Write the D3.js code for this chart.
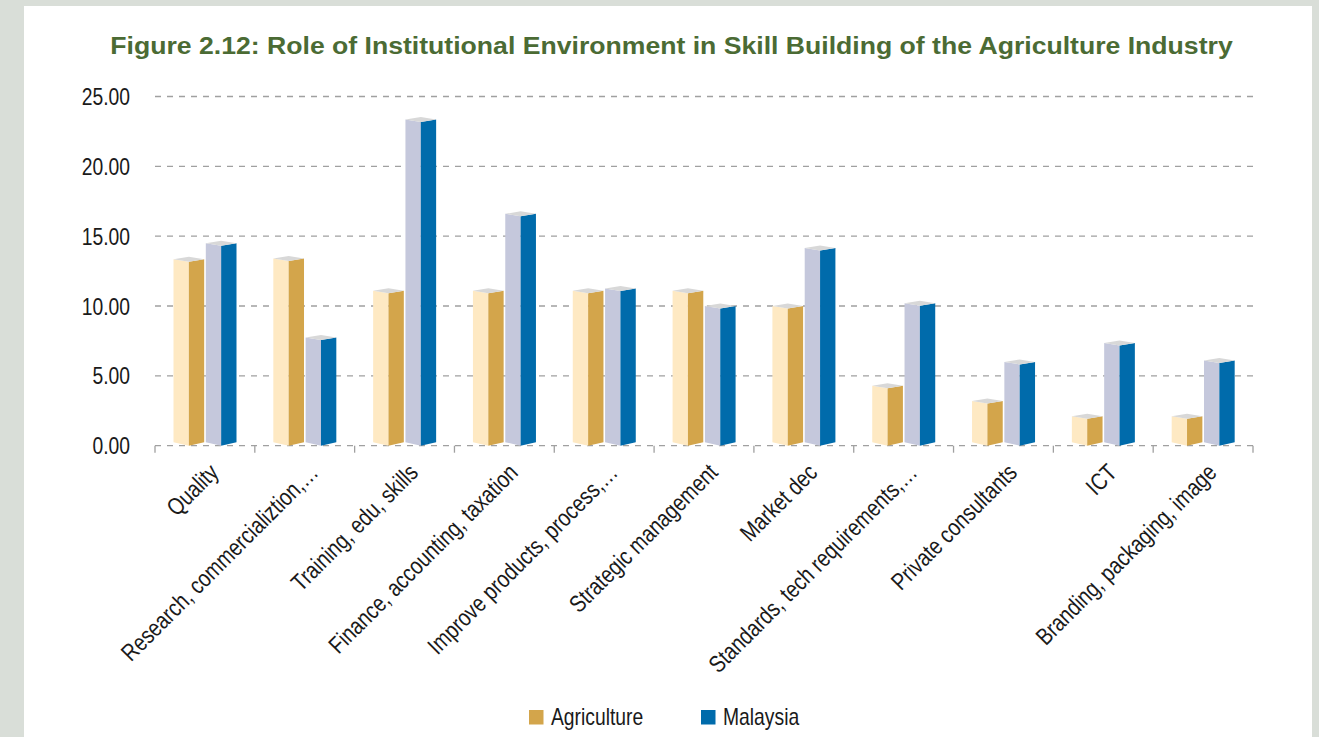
<!DOCTYPE html>
<html>
<head>
<meta charset="utf-8">
<script src="https://cdn.jsdelivr.net/npm/d3@7"></script>
<style>
  html, body { margin: 0; padding: 0; background: #d9ded8; }
  svg { display: block; }
  text { font-family: "Liberation Sans", Arial, sans-serif; fill: #1a1a1a; }
</style>
</head>
<body>
<svg id="chart" width="1319" height="737"></svg>
<script>
// Categories and values
const categories = [
  "Quality",
  "Research, commercializtion,…",
  "Training, edu, skills",
  "Finance, accounting, taxation",
  "Improve products, process,…",
  "Strategic management",
  "Market dec",
  "Standards, tech requirements,…",
  "Private consultants",
  "ICT",
  "Branding, packaging, image"
];
const seriesNames = ["Agriculture", "Malaysia"];
const agriculture = [13.35, 13.4, 11.1, 11.1, 11.1, 11.1, 10.0, 4.3, 3.2, 2.1, 2.1];
const malaysia    = [14.5, 7.75, 23.35, 16.6, 11.25, 10.0, 14.15, 10.2, 6.0, 7.35, 6.1];
const yTicks = [0, 5, 10, 15, 20, 25];
const titleText = "Figure 2.12: Role of Institutional Environment in Skill Building of the Agriculture Industry";

// Face colours for the box-shaped bars: light face, dark face, top, legend key
const palette = {
  Agriculture: { light: "#fee9c3", dark: "#d3a54b", top: "#d8d8d8", key: "#d3a54b" },
  Malaysia:    { light: "#c5c8dc", dark: "#006bab", top: "#d8d8d8", key: "#006bab" }
};

const svg = d3.select("#chart");

// White panel
svg.append("rect").attr("x", 24).attr("y", 6).attr("width", 1288).attr("height", 760).attr("fill", "#ffffff");

const x0 = d3.scaleBand().domain(categories).range([155, 1253]).padding(0);
const x1 = d3.scaleBand().domain(seriesNames).range([18.5, 81.5]).paddingInner(0.05);
const y = d3.scaleLinear().domain([0, 25]).range([445.7, 96.5]);

const narrow = 0.84;

// Title
const title = svg.append("text")
  .attr("x", 0).attr("y", 0)
  .attr("text-anchor", "middle")
  .attr("font-weight", "bold")
  .attr("font-size", 23.5)
  .style("fill", "#4b6b34")
  .text(titleText);
const tw = title.node().getComputedTextLength();
title.attr("transform", `translate(671.5,53.5) scale(${1123 / tw},1)`);

// Gridlines
svg.append("g").selectAll("line")
  .data(yTicks)
  .join("line")
  .attr("x1", 155).attr("x2", 1253)
  .attr("y1", d => y(d)).attr("y2", d => y(d))
  .attr("stroke", "#a0a0a0")
  .attr("stroke-width", 1.3)
  .attr("stroke-dasharray", "6,6");

// Category separator ticks under the baseline
svg.append("g").selectAll("line")
  .data(d3.range(categories.length + 1))
  .join("line")
  .attr("x1", i => 155 + i * x0.step()).attr("x2", i => 155 + i * x0.step())
  .attr("y1", y(0)).attr("y2", y(0) + 7)
  .attr("stroke", "#a0a0a0")
  .attr("stroke-width", 1.3);

// Y tick labels
svg.append("g").selectAll("text")
  .data(yTicks)
  .join("text")
  .attr("transform", d => `translate(130,${y(d) + 8.5}) scale(${narrow},1)`)
  .attr("text-anchor", "end")
  .attr("font-size", 23)
  .text(d => d3.format(".2f")(d));

// Box-shaped bars seen from the front corner
const rows = [];
categories.forEach((c, i) => {
  rows.push({ cat: c, s: "Agriculture", v: agriculture[i] });
  rows.push({ cat: c, s: "Malaysia", v: malaysia[i] });
});

const half = x1.bandwidth() / 2;
const tilt = 2.5, baseTilt = 3.5;
const bars = svg.append("g").selectAll("g")
  .data(rows)
  .join("g")
  .attr("transform", d => `translate(${x0(d.cat) + x1(d.s)},0)`);

bars.append("path")
  .attr("fill", d => palette[d.s].light)
  .attr("d", d => {
    const yt = y(d.v), yb = y(0);
    return `M0,${yt} L${half},${yt + tilt} L${half},${yb} L0,${yb - baseTilt} Z`;
  });
bars.append("path")
  .attr("fill", d => palette[d.s].dark)
  .attr("d", d => {
    const yt = y(d.v), yb = y(0);
    return `M${half},${yt + tilt} L${2 * half},${yt} L${2 * half},${yb - baseTilt} L${half},${yb} Z`;
  });
bars.append("path")
  .attr("fill", d => palette[d.s].top)
  .attr("d", d => {
    const yt = y(d.v);
    return `M0,${yt} L${half},${yt - tilt} L${2 * half},${yt} L${half},${yt + tilt} Z`;
  });

// Rotated category labels
svg.append("g").selectAll("text")
  .data(categories)
  .join("text")
  .attr("transform", d => `translate(${x0(d) + x0.bandwidth() / 2 + 15},${474}) rotate(-45) scale(0.82,1)`)
  .attr("text-anchor", "end")
  .attr("font-size", 24)
  .text(d => d);

// Legend
const legend = svg.append("g").selectAll("g")
  .data(seriesNames)
  .join("g")
  .attr("transform", (d, i) => `translate(${[529, 701][i]},710)`);
legend.append("rect")
  .attr("width", 14.5).attr("height", 14.5)
  .attr("fill", d => palette[d].key);
legend.append("text")
  .attr("transform", `translate(22,14.5) scale(${narrow},1)`)
  .attr("font-size", 23)
  .text(d => d);
</script>
</body>
</html>
